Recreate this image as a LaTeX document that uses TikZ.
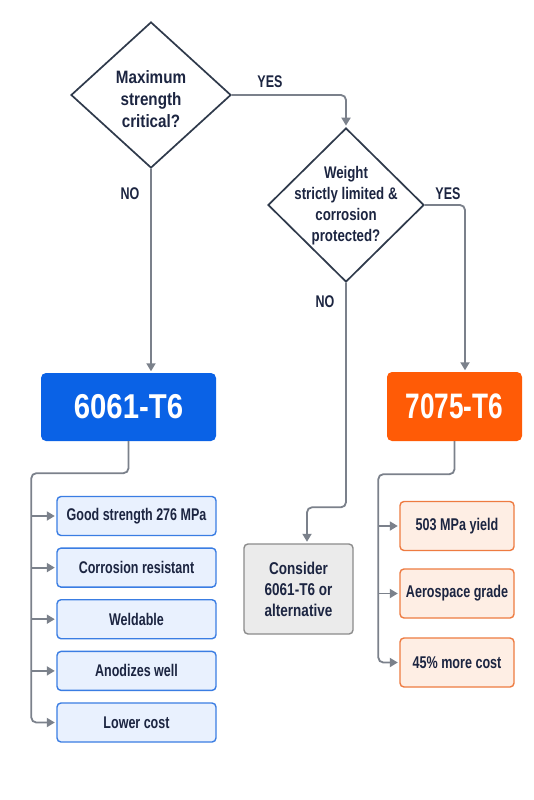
\documentclass[tikz,border=0pt]{standalone}
\usepackage{fontspec}
\setmainfont{Liberation Sans}
\newfontfamily\fa{Liberation Sans}[FakeStretch=0.74]
\newfontfamily\fc{Liberation Sans}[FakeStretch=0.79]
\newfontfamily\fb{Liberation Sans}[FakeStretch=0.85]
\usetikzlibrary{shapes.geometric,arrows.meta,calc}
\definecolor{navy}{HTML}{1C2541}
\definecolor{dstroke}{HTML}{2F3A4B}
\definecolor{cgray}{HTML}{7B818B}
\definecolor{bblue}{HTML}{0A62E6}
\definecolor{lblue}{HTML}{3A7DE3}
\definecolor{lbluefill}{HTML}{E9F1FE}
\definecolor{borange}{HTML}{FF5B06}
\definecolor{lorange}{HTML}{EE7B41}
\definecolor{lorangefill}{HTML}{FEEEE4}
\definecolor{gfill}{HTML}{EBEBEB}
\definecolor{gline}{HTML}{8B8B8B}
\begin{document}
\begin{tikzpicture}[x=1pt,y=-1pt,
  decision/.style={diamond, draw=dstroke, line width=1.7pt, fill=white, inner sep=0pt},
  dtextA/.style={text=navy, align=center, inner sep=0pt, font=\fb\bfseries\fontsize{17.9}{22}\selectfont},
  dtextB/.style={text=navy, align=center, inner sep=0pt, font=\fc\bfseries\fontsize{16.8}{21}\selectfont},
  lbl/.style={text=navy, inner sep=0pt, font=\fa\bfseries\fontsize{16.9}{20}\selectfont},
  main/.style={rectangle, rounded corners=5pt, text=white, inner sep=0pt},
  gitem/.style={rectangle, rounded corners=4pt, draw=lblue, fill=lbluefill, line width=1.4pt,
    minimum width=159pt, minimum height=39pt, inner sep=0pt, text=navy,
    font=\fa\bfseries\fontsize{16.9}{20}\selectfont},
  oitem/.style={rectangle, rounded corners=4pt, draw=lorange, fill=lorangefill, line width=1.4pt,
    minimum width=114pt, minimum height=49pt, inner sep=0pt, text=navy,
    font=\fa\bfseries\fontsize{17}{20}\selectfont},
  altbox/.style={rectangle, rounded corners=4pt, draw=gline, fill=gfill, line width=1.4pt,
    minimum width=109pt, minimum height=90pt, inner sep=0pt, text=navy, align=center,
    font=\fc\bfseries\fontsize{17.1}{21}\selectfont},
  conn/.style={draw=cgray, line width=1.8pt, rounded corners=5pt},
  arr/.style={-{Triangle[length=8pt,width=9pt]}, shorten >=1.5pt}
]
\useasboundingbox (0,0) rectangle (533,800);
\fill[white] (0,0) rectangle (533,800);

% decisions
\node[decision, minimum width=160pt, minimum height=146pt] (d1) at (151,95) {};
\node[dtextA] (t1) at ($(d1.center)+(0,4)$) {Maximum\\strength\\critical?};
\node[decision, minimum width=156pt, minimum height=154pt] (d2) at (346,205) {};
\node[dtextB] (t2) at ($(d2.center)+(0,1)$) {Weight\\strictly limited \&\\corrosion\\protected?};

% main boxes
\node[main, fill=bblue, minimum width=175pt, minimum height=68pt,
  font=\fb\bfseries\fontsize{34.5}{40}\selectfont] (b6061) at (128.5,407) {6061-T6};
\node[main, fill=borange, minimum width=135pt, minimum height=69pt,
  font=\fa\bfseries\fontsize{35.4}{40}\selectfont] (b7075) at (454.5,406.5) {7075-T6};

% alternative
\node[altbox] (cons) at (298.5,589) {Consider\\6061-T6 or\\alternative};

% 6061 properties
\node[gitem] (g1) at (136.5,516) {Good strength 276 MPa};
\node[gitem] (g2) at (136.5,567.6) {Corrosion resistant};
\node[gitem] (g3) at (136.5,619.2) {Weldable};
\node[gitem] (g4) at (136.5,670.9) {Anodizes well};
\node[gitem] (g5) at (136.5,722.5) {Lower cost};

% 7075 properties
\node[oitem] (r1) at (457,526) {503 MPa yield};
\node[oitem] (r2) at (457,593.5) {Aerospace grade};
\node[oitem] (r3) at (457,662.5) {45\% more cost};

% labels
\node[lbl] (yes1) at (270,82) {YES};
\node[lbl] (no1) at (130,194) {NO};
\node[lbl] (yes2) at (448,194) {YES};
\node[lbl] (no2) at (325,302) {NO};

% connectors
\draw[conn,arr] (d1.east) -| (d2.north);
\draw[conn,arr] (d1.south) -- (d1.south |- b6061.north);
\draw[conn,arr] (d2.east) -| ([xshift=10.5pt]b7075.north);
\draw[conn,arr] (d2.south) |- ($(cons.north)+(8.5,-36)$) -- ([xshift=8.5pt]cons.north);

\draw[conn,arr] (b6061.south) -- ++(0,32) -| ([xshift=-25pt]g5.west) -- (g5.west);
\foreach \g in {g1,g2,g3,g4}
  \draw[conn,arr] ([xshift=-25pt]\g.west) -- (\g.west);

\draw[conn,arr] (b7075.south) -- ++(0,33) -| ([xshift=-21pt]r3.west) -- (r3.west);
\foreach \r in {r1,r2}
  \draw[conn,arr] ([xshift=-21pt]\r.west) -- (\r.west);
\end{tikzpicture}
\end{document}
